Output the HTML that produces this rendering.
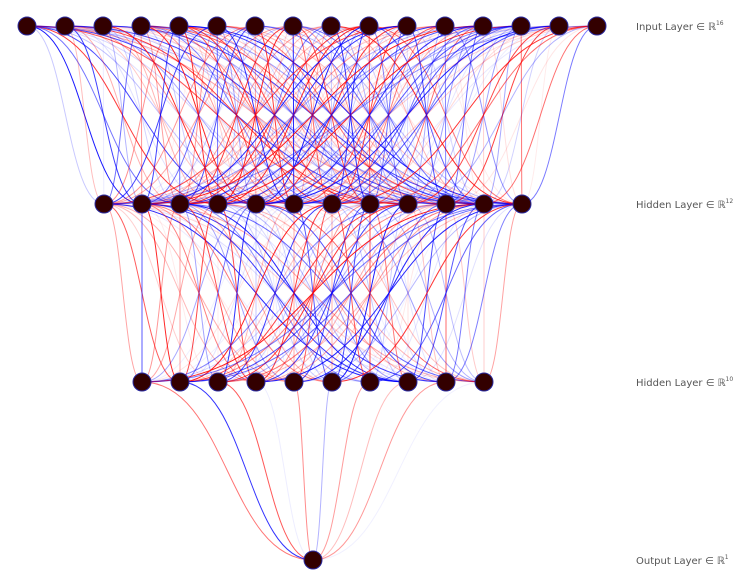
<!DOCTYPE html>
<html><head><meta charset="utf-8"><style>
html,body{margin:0;padding:0;background:#fff;width:745px;height:585px;overflow:hidden}
text{font-family:"DejaVu Sans","Liberation Sans",sans-serif;font-size:10px;fill:#555}
</style></head><body>
<svg id="s" width="745" height="585" xmlns="http://www.w3.org/2000/svg">
<g id="e"></g><g id="n"></g>
<text x="636" y="30">Input Layer ∈ ℝ<tspan dy="-5" font-size="6">16</tspan></text>
<text x="636" y="208">Hidden Layer ∈ ℝ<tspan dy="-5" font-size="6">12</tspan></text>
<text x="636" y="386">Hidden Layer ∈ ℝ<tspan dy="-5" font-size="6">10</tspan></text>
<text x="636" y="564">Output Layer ∈ ℝ<tspan dy="-5" font-size="6">1</tspan></text>
</svg>
<script>
var seed=12345;function r(){seed=(seed*1103515245+12345)%2147483648;return seed/2147483648;}
var layers=[{n:16,x0:27,y:26},{n:12,x0:104,y:204},{n:10,x0:142,y:382},{n:1,x0:313,y:560}];
var sp=38,NS="http://www.w3.org/2000/svg",e=document.getElementById('e'),nd=document.getElementById('n');
for(var l=0;l<3;l++){var A=layers[l],B=layers[l+1];
for(var i=0;i<A.n;i++)for(var j=0;j<B.n;j++){var x1=A.x0+i*sp,x2=B.x0+j*sp,xm=(x1+x2)/2;
var p=document.createElementNS(NS,'path');
p.setAttribute('d','M'+x1+','+A.y+'C'+xm+','+A.y+' '+xm+','+B.y+' '+x2+','+B.y);
p.setAttribute('fill','none');p.setAttribute('stroke',r()<0.5?'#ff0000':'#0000ff');
var o=r();o=0.05+0.85*Math.pow(o,1.4);
p.setAttribute('stroke-width','1');p.setAttribute('stroke-opacity',o.toFixed(2));e.appendChild(p);}}
layers.forEach(function(L){for(var i=0;i<L.n;i++){var c=document.createElementNS(NS,'circle');
c.setAttribute('cx',L.x0+i*sp);c.setAttribute('cy',L.y);c.setAttribute('r',9);
c.setAttribute('fill','#330000');c.setAttribute('stroke','#2a2aa0');c.setAttribute('stroke-width','1');nd.appendChild(c);}});
</script>
</body></html>
